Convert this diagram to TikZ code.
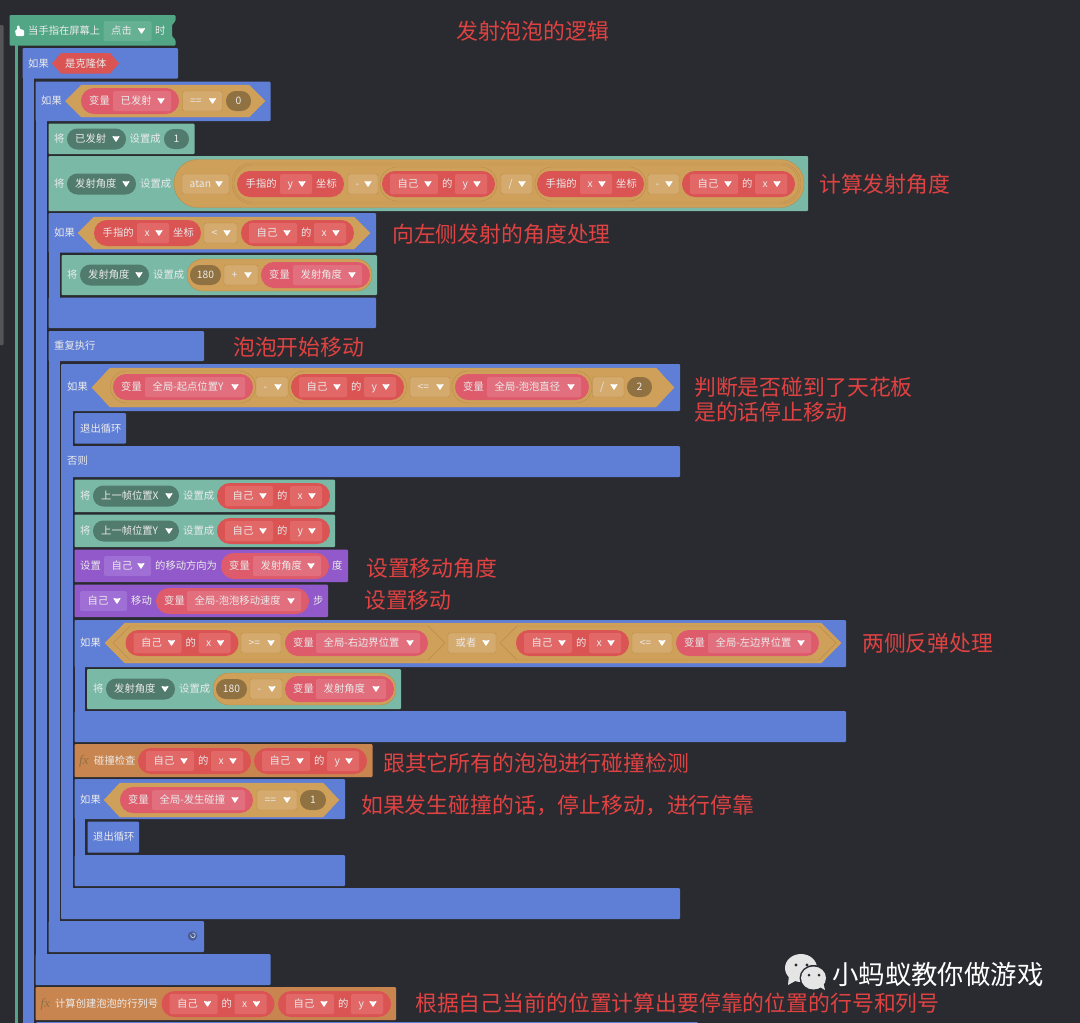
\documentclass[tikz,border=0pt]{standalone}
\usepackage{xcolor}
\usepackage{fontspec}
\setmainfont{Noto Sans CJK SC}
\newfontfamily\fxfont{Liberation Serif}
\usetikzlibrary{positioning}
\definecolor{bgdark}{HTML}{2A2B30}
\definecolor{ctrlblue}{HTML}{5F7ED6}
\definecolor{hatgreen}{HTML}{52A585}
\definecolor{hatchip}{HTML}{66B094}
\definecolor{teal}{HTML}{79B9A6}
\definecolor{tealdark}{HTML}{517B6D}
\definecolor{tan}{HTML}{CFA05A}
\definecolor{tanchip}{HTML}{D4AA6E}
\definecolor{tanline}{HTML}{B98C4A}
\definecolor{tandark}{HTML}{8F7142}
\definecolor{sred}{HTML}{DB5454}
\definecolor{sredchip}{HTML}{E26767}
\definecolor{spink}{HTML}{DD5B6B}
\definecolor{spinkchip}{HTML}{E26F7D}
\definecolor{purple}{HTML}{9159C9}
\definecolor{purplechip}{HTML}{A06FD5}
\definecolor{funcbrown}{HTML}{C9854F}
\definecolor{notered}{HTML}{E04242}
\newcounter{txtno}
% plain block face
\newcommand{\blockbar}[5]{\fill[#1] (#2,#4) rectangle (#3,#5);}
% block text, from its left end
\newcommand{\txt}[3]{\stepcounter{txtno}\node[lbl] (t\thetxtno) at (#1,#2+0.4) {#3};}
% dropdown heart
\newcommand{\droptip}[2]{\fill[tip] (#1-3.9,#2-3) -- (#1,#2-2.4) -- (#1+3.9,#2-3) -- (#1,#2+3.2) -- cycle;}
% dropdown box: style, left, right, y, text
\newcommand{\chipbox}[5]{\fill[#1] (#2,#4-10) rectangle (#3,#4+10);
  \txt{#2+7.5}{#4}{#5}
  \droptip{#3-10}{#4}}
% round value: style, left, right, y, half height
\newcommand{\pillbox}[5]{\path[#1, rounded corners=#5*0.99] (#2,#4-#5) rectangle (#3,#4+#5);}
\newcommand{\numpill}[5]{\pillbox{#1}{#2}{#3}{#4}{10}\stepcounter{txtno}\node[lbl, anchor=center] (t\thetxtno) at ({(#2+#3)/2},#4+0.4) {#5};}
% dark variable name
\newcommand{\varname}[4]{\pillbox{fill=tealdark}{#1}{#2}{#3}{10.5}\txt{#1+8}{#3}{#4}
  \droptip{#2-10}{#3}}
% pink "variable" value
\newcommand{\varpill}[5]{\pillbox{fill=spink}{#1}{#2}{#4}{13}\txt{#1+8}{#4}{变量}
  \chipbox{pinkchip}{#3}{#2-8}{#4}{#5}}
% red "self's x" value
\newcommand{\selfof}[3]{\pillbox{fill=sred}{#1}{#1+113}{#2}{13}
  \chipbox{redchip}{#1+8}{#1+56}{#2}{自己}\txt{#1+60}{#2}{的}
  \chipbox{redchip}{#1+73}{#1+105}{#2}{#3}}
% red "finger's x" value
\newcommand{\fingerof}[3]{\pillbox{fill=sred}{#1}{#1+107}{#2}{13}\txt{#1+8.5}{#2}{手指的}
  \chipbox{redchip}{#1+43}{#1+75}{#2}{#3}\txt{#1+79}{#2}{坐标}}
% six sided condition
\newcommand{\hexa}[7][tan]{\path[fill=#1, draw=#7] (#2,#4) -- (#2+#6,#4-#5) -- (#3-#6,#4-#5) -- (#3,#4) -- (#3-#6,#4+#5) -- (#2+#6,#4+#5) -- cycle;}
\begin{document}
\begin{tikzpicture}[
    x=1pt, y=-1pt,
    lbl/.style={anchor=west, inner sep=0pt, text height=8.5pt, text depth=1.5pt, text=white!92!black, font=\fontsize{10.3}{10.3}\selectfont},
    note/.style={anchor=west, inner sep=0pt, text=notered, font=\fontsize{21.85}{22}\selectfont},
    tip/.style={fill=white, rounded corners=0.7pt},
    ctrl/.style={fill=ctrlblue, rounded corners=1pt},
    setblock/.style={fill=teal, rounded corners=1pt},
    moveblock/.style={fill=purple, rounded corners=1pt},
    funcblock/.style={fill=funcbrown, rounded corners=1pt},
    hatchipbox/.style={fill=hatchip, rounded corners=1.5pt},
    tanbox/.style={fill=tanchip, draw=tanline, line width=0.4pt, rounded corners=1.5pt},
    redchip/.style={fill=sredchip, rounded corners=1.5pt},
    pinkchip/.style={fill=spinkchip, rounded corners=1.5pt},
    purplebox/.style={fill=purplechip, rounded corners=1.5pt},
    ring/.style={draw=tanline, line width=0.4pt}
]
\fill[bgdark] (0,0) rectangle (1080,1023);
\useasboundingbox (0,0) rectangle (1080,1023);
% scrollbar and hat
\fill[gray!50!bgdark, rounded corners=1pt] (-2,25) rectangle (3.5,345);
\fill[hatgreen] (14.5,40) rectangle (17.5,1023);
\fill[hatgreen, rounded corners=1pt] (9.5,15) -- (175.5,15) -- (175.5,21) -- (172,25) -- (172,36) -- (175.5,40) -- (175.5,45.7) -- (9.5,45.7) -- cycle;
\fill[white, rounded corners=1pt] (15,30) -- (17.2,30) -- (17.2,25.5) -- (19.6,25.5) -- (19.6,29) -- (24,30) -- (24,36) -- (16,36) -- cycle;
\txt{28}{31}{当手指在屏幕上}
\chipbox{hatchipbox}{103.5}{151.5}{31}{点击}
\txt{155}{31}{时}
% outer branches
\blockbar{ctrl}{22.5}{178}{48}{78.5}
\fill[ctrlblue] (22.5,70) rectangle (34,1023);
\txt{28}{64}{如果}
\fill[sred] (52,63.5) -- (61,53) -- (110,53) -- (119,63.5) -- (110,73.5) -- (61,73.5) -- cycle;
\txt{65}{64}{是克隆体}
\blockbar{ctrl}{35.5}{270.5}{81.5}{121}
\fill[ctrlblue] (35.5,110) rectangle (46.5,965);
\txt{41}{101}{如果}
\hexa{65.5}{265}{101}{16}{16}{tan}
\varpill{81}{179}{113}{101}{已发射}
\chipbox{tanbox}{182.5}{222.5}{101}{==}
\numpill{fill=tandark}{226}{251}{101}{0}
% shooting angle
\blockbar{setblock}{48.5}{194.5}{123.5}{154}
\txt{54}{139}{将}
\varname{67}{126}{139}{已发射}
\txt{129.5}{139}{设置成}
\numpill{fill=tealdark}{164}{189}{139}{1}
\blockbar{setblock}{48.5}{808}{156}{211}
\txt{54}{184}{将}
\varname{67}{136}{184}{发射角度}
\txt{140}{184}{设置成}
\pillbox{fill=tan, ring}{174}{804}{183.5}{24}
\chipbox{tanbox}{182}{229}{184}{atan}
\pillbox{ring}{232}{801}{183.5}{20.5}
\pillbox{ring}{234}{799}{183.5}{18.5}
\fingerof{237}{184}{y}
\chipbox{tanbox}{348}{378}{184}{-}
\pillbox{ring}{380}{497}{184}{17}
\selfof{382}{184}{y}
\chipbox{tanbox}{501}{532}{184}{/}
\pillbox{ring}{535}{646}{184}{17}
\fingerof{537}{184}{x}
\chipbox{tanbox}{648}{679}{184}{-}
\selfof{682}{184}{x}
% shooting to the left
\blockbar{ctrl}{48.5}{376}{213}{252.5}
\fill[ctrlblue] (48.5,240) rectangle (59.5,310);
\txt{54}{233}{如果}
\hexa{78}{370}{233}{16}{16}{tan}
\fingerof{94}{233}{x}
\chipbox{tanbox}{204}{237}{233}{<}
\selfof{241}{233}{x}
\blockbar{setblock}{61.5}{377}{255}{295}
\txt{67}{275}{将}
\varname{80}{149}{275}{发射角度}
\txt{153}{275}{设置成}
\pillbox{fill=tan, ring}{187}{372}{275}{16}
\numpill{fill=tandark}{190}{221}{275}{180}
\chipbox{tanbox}{224}{258}{275}{+}
\varpill{261}{370}{293}{275}{发射角度}
\blockbar{ctrl}{48.5}{376}{297.5}{328}
% repeat
\blockbar{ctrl}{48.5}{204}{331}{361}
\fill[ctrlblue] (48.5,350) rectangle (59.5,935);
\txt{54}{346}{重复执行}
\blockbar{ctrl}{61}{680}{364}{411}
\fill[ctrlblue] (61,400) rectangle (72.5,900);
\txt{67}{387}{如果}
\hexa{92}{674}{387.5}{19.5}{18}{tan}
\pillbox{ring}{110.5}{255.5}{387}{16}
\pillbox{ring}{288.5}{406.5}{387}{16}
\varpill{113}{253}{145}{387}{全局-起点位置Y}
\chipbox{tanbox}{256}{288}{387}{-}
\selfof{291}{387}{y}
\chipbox{tanbox}{410}{450}{387}{<=}
\pillbox{ring}{452}{592}{387}{16}
\varpill{455}{589}{487}{387}{全局-泡泡直径}
\chipbox{tanbox}{592.5}{624}{387}{/}
\numpill{fill=tandark}{627}{652}{387}{2}
\blockbar{ctrl}{74.5}{126}{413}{443.5}
\txt{80}{429}{退出循环}
\blockbar{ctrl}{61}{680}{446}{477}
\txt{67}{461}{否则}
% moving step
\blockbar{setblock}{74.5}{335}{479.5}{512}
\txt{80}{496}{将}
\varname{93}{179}{496}{上一帧位置X}
\txt{183}{496}{设置成}
\selfof{217}{496}{x}
\blockbar{setblock}{74.5}{335}{514.5}{547}
\txt{80}{531}{将}
\varname{93}{179}{531}{上一帧位置Y}
\txt{183}{531}{设置成}
\selfof{217}{531}{y}
\blockbar{moveblock}{74.5}{348}{549.5}{582}
\txt{80}{566}{设置}
\chipbox{purplebox}{104}{151}{566}{自己}
\txt{155}{566}{的移动方向为}
\varpill{221}{329}{253}{566}{发射角度}
\txt{332}{566}{度}
\blockbar{moveblock}{74.5}{328}{584.5}{617}
\chipbox{purplebox}{80}{127}{601}{自己}
\txt{131}{601}{移动}
\varpill{156}{309}{187}{601}{全局-泡泡移动速度}
\txt{313}{601}{步}
% bouncing on both sides
\blockbar{ctrl}{74.5}{846}{620}{667}
\fill[ctrlblue] (74.5,655) rectangle (85,730);
\txt{80}{643}{如果}
\hexa{105}{841}{643}{20}{20}{tan}
\hexa[none]{113}{445}{643}{17}{17}{tanline}
\hexa[none]{500}{836}{643}{17}{17}{tanline}
\selfof{125.5}{643}{x}
\chipbox{tanbox}{241}{281}{643}{>=}
\varpill{285}{428}{316}{643}{全局-右边界位置}
\chipbox{tanbox}{448}{496}{643}{或者}
\selfof{516}{643}{x}
\chipbox{tanbox}{632}{672}{643}{<=}
\varpill{676}{819}{708}{643}{全局-左边界位置}
\blockbar{setblock}{87}{401}{669}{709}
\txt{93}{689}{将}
\varname{106}{175}{689}{发射角度}
\txt{179}{689}{设置成}
\pillbox{fill=tan, ring}{213}{396}{689}{16}
\numpill{fill=tandark}{216}{247}{689}{180}
\chipbox{tanbox}{250}{282}{689}{-}
\varpill{285}{394}{316}{689}{发射角度}
\blockbar{ctrl}{74.5}{846}{711}{742}
% collision check
\blockbar{funcblock}{74.5}{372.5}{744}{777}
\stepcounter{txtno}\node[lbl, text=tandark, font=\fxfont\itshape\fontsize{13}{13}\selectfont] (t\thetxtno) at (79,761) {fx};
\txt{94}{761}{碰撞检查}
\selfof{138}{761}{x}
\selfof{254}{761}{y}
\blockbar{ctrl}{74.5}{345}{779}{819}
\fill[ctrlblue] (74.5,810) rectangle (85,870);
\txt{80}{800}{如果}
\hexa{104}{339}{800}{17}{16}{tan}
\varpill{120}{253}{152}{800}{全局-发生碰撞}
\chipbox{tanbox}{257}{297}{800}{==}
\numpill{fill=tandark}{300}{326}{800}{1}
\blockbar{ctrl}{87.5}{139}{821.5}{852.5}
\txt{93}{837}{退出循环}
\blockbar{ctrl}{74.5}{345}{855}{886}
% closing bars
\blockbar{ctrl}{61}{680}{888}{919}
\blockbar{ctrl}{48.5}{204}{921}{952}
\fill[ctrlblue!60!bgdark] (192.5,936) circle (4.8);
\draw[white!70!ctrlblue, line width=0.7pt] (190.8,934.5) arc (200:-110:2.3);
\blockbar{ctrl}{35.5}{270.5}{954}{985}
\blockbar{funcblock}{35.5}{396}{987}{1020}
\stepcounter{txtno}\node[lbl, text=tandark, font=\fxfont\itshape\fontsize{13}{13}\selectfont] (t\thetxtno) at (40.5,1004) {fx};
\txt{55}{1004}{计算创建泡泡的行列号}
\selfof{161.5}{1004}{x}
\selfof{278}{1004}{y}
\blockbar{ctrl}{36}{698}{1022}{1030}
% notes
\node[note] (logic) at (456,31) {发射泡泡的逻辑};
\node[note] (angle) at (819,184) {计算发射角度};
\node[note] (left) at (392,234) {向左侧发射的角度处理};
\node[note] (start) at (233,347) {泡泡开始移动};
\node[note] (ceil) at (694,387) {判断是否碰到了天花板};
\node[note] (stop) at (694,412) {是的话停止移动};
\node[note] (setangle) at (366,568) {设置移动角度};
\node[note] (setmove) at (364,600) {设置移动};
\node[note] (bounce) at (862,643) {两侧反弹处理};
\node[note] (check) at (383,763) {跟其它所有的泡泡进行碰撞检测};
\node[note] (dock) at (361,805) {如果发生碰撞的话，停止移动，进行停靠};
\node[note] (rowcol) at (415,1003) {根据自己当前的位置计算出要停靠的位置的行号和列号};
% watermark
\fill[white!90!black] (801,968) ellipse (16 and 14);
\fill[white!90!black] (789,975) -- (788,985) -- (797,980) -- cycle;
\fill[bgdark] (813.5,978) ellipse (14 and 13);
\fill[white!90!black] (813.5,978) ellipse (12.5 and 11.5);
\fill[white!90!black] (818,986) -- (825,990) -- (823,982) -- cycle;
\foreach \ex/\ey in {796/965, 807/965}
  \fill[bgdark] (\ex,\ey) circle (1.7);
\foreach \ex/\ey in {809/975, 819/975}
  \fill[bgdark] (\ex,\ey) circle (1.5);
\node[lbl, text=white, text height=22pt, text depth=3.5pt, font=\fontsize{26.4}{26.4}\selectfont] (mark) at (832,975) {小蚂蚁教你做游戏};
\end{tikzpicture}
\end{document}
